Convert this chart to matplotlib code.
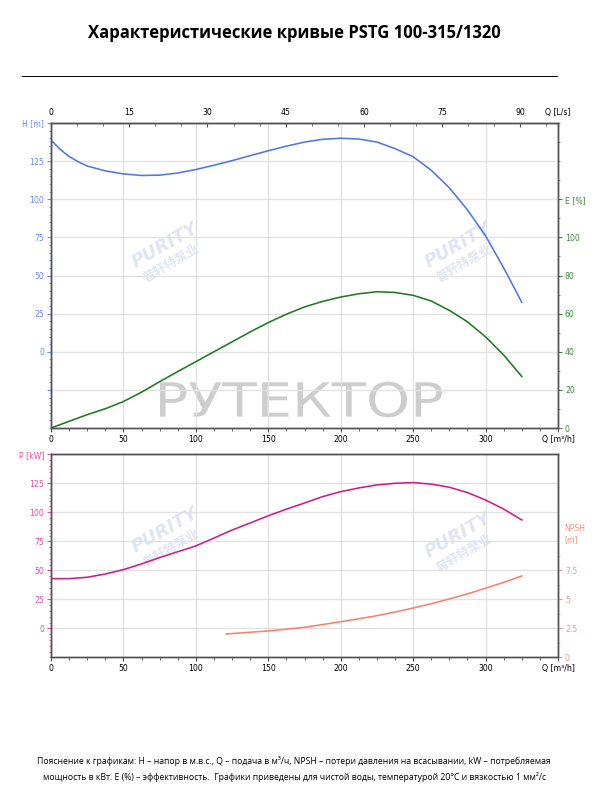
import matplotlib
matplotlib.use('Agg')
import matplotlib.pyplot as plt
from matplotlib.ticker import MultipleLocator
from matplotlib.lines import Line2D
from matplotlib.textpath import TextPath
from matplotlib.patches import PathPatch
from matplotlib.font_manager import FontProperties
from matplotlib.transforms import Affine2D

plt.rcParams['font.family'] = ['Liberation Sans Narrow', 'DejaVu Sans']

# --- data (Q in m3/h) ---
q_h = [0, 6, 12.5, 19, 25, 37.5, 50, 62.5, 75, 87.5, 100, 112.5, 125, 137.5, 150, 162.5, 175,
       187.5, 200, 212.5, 225, 237.5, 250, 262.5, 275, 287.5, 300, 312.5, 325]
h_m = [138.8, 133, 128, 124.5, 121.8, 118.6, 116.6, 115.6, 115.8, 117.2, 119.5, 122.3, 125.3, 128.6,
       131.8, 134.8, 137.5, 139.3, 140, 139.5, 137.5, 133.2, 127.9, 119, 107.5, 93, 76, 55, 32.4]

q_e = [0, 12.5, 25, 37.5, 50, 62.5, 75, 87.5, 100, 112.5, 125, 137.5, 150, 162.5, 175, 187.5,
       200, 212.5, 225, 237.5, 250, 262.5, 275, 287.5, 300, 312.5, 325]
eff = [0, 3.5, 7.0, 10.1, 13.9, 18.8, 24.3, 29.6, 34.8, 40, 45.2, 50.4, 55.3, 59.7, 63.5, 66.4,
       68.7, 70.4, 71.5, 71.1, 69.6, 66.6, 61.7, 55.7, 47.8, 38.3, 27]

q_p = [0, 12.5, 25, 37.5, 50, 62.5, 75, 87.5, 100, 112.5, 125, 137.5, 150, 162.5, 175, 187.5,
       200, 212.5, 225, 237.5, 250, 262.5, 275, 287.5, 300, 312.5, 325]
p_kw = [42.8, 42.8, 44, 46.8, 50.6, 55.5, 61, 66, 71, 77.8, 84.7, 90.8, 97, 102.7, 108, 113.5,
        117.8, 121, 123.6, 125, 125.6, 124.3, 121.6, 117, 110.6, 102.8, 93.4]

q_n = [121, 137.5, 150, 162.5, 175, 187.5, 200, 212.5, 225, 237.5, 250, 262.5, 275, 287.5, 300, 312.5, 325]
npsh = [2.01, 2.16, 2.27, 2.42, 2.59, 2.82, 3.07, 3.32, 3.59, 3.9, 4.25, 4.62, 5.03, 5.47, 5.95, 6.46, 7.01]

q_ticks = [0, 50, 100, 150, 200, 250, 300, 350]
q_labels = ['0', '50', '100', '150', '200', '250', '300', 'Q [m³/h]']
ls_ticks = [0, 15, 30, 45, 60, 75, 90, 350 / 3.6]
ls_labels = ['0', '15', '30', '45', '60', '75', '90', 'Q [L/s]']

c_h, c_e, c_p, c_n = '#4f78e3', '#1f7a1f', '#c81e8c', '#f8806c'
c_hl, c_el, c_pl, c_nl = '#6a8cea', '#3d8a3d', '#df4fa6', '#f59684'
grid_c = '#e2e2e2'
spine_c = '#505050'
fs = 5.6
lw = 1.15

fig = plt.figure(figsize=(6.03, 8), dpi=100)

txt_font = ['Open Sans', 'Noto Sans', 'DejaVu Sans']
fig.text(0.488, 1 - 33 / 800, 'Характеристические кривые PSTG 100-315/1320',
         ha='center', va='center', fontsize=12, fontweight='bold', family=txt_font)
fig.add_artist(Line2D([22 / 603, 557 / 603], [1 - 76 / 800] * 2, color='black', lw=0.7))
fig.text(0.488, 1 - 761 / 800,
         'Пояснение к графикам: H – напор в м.в.с., Q – подача в м³/ч, NPSH – потери давления на всасывании, kW – потребляемая',
         ha='center', va='center', fontsize=6.2, family=txt_font)
fig.text(0.488, 1 - 777 / 800,
         'мощность в кВт. E (%) – эффективность.  Графики приведены для чистой воды, температурой 20°C и вязкостью 1 мм²/с',
         ha='center', va='center', fontsize=6.2, family=txt_font)

# watermarks
tp = TextPath((0, 0), 'РУТЕКТОР', size=40, prop=FontProperties(family='DejaVu Sans'))
bb = tp.get_extents()
x0, x1, ytop, ybot = 160, 442, 381.7, 417.3
sx = (x1 - x0) / bb.width
sy = (ybot - ytop) / bb.height
wm = PathPatch(tp, facecolor='#cdcdcd', edgecolor='none', zorder=-1,
               transform=Affine2D().translate(-bb.x0, -bb.y0).scale(sx, sy).translate(x0, 800 - ybot))
fig.add_artist(wm)
for (wx, wy) in [(165, 245), (458, 245), (165, 530), (458, 535)]:
    fig.text(wx / 603, 1 - wy / 800, 'PURITY', ha='center', va='center', fontsize=13,
             fontweight='bold', style='italic', rotation=30, color='#dfe5f1',
             family=['DejaVu Sans'], zorder=-1)
    fig.text((wx + 6) / 603, 1 - (wy + 18) / 800, '普轩特泵业', ha='center', va='center', fontsize=9,
             fontweight='bold', rotation=30, color='#dfe5f1',
             family=['Noto Sans CJK SC', 'DejaVu Sans'], zorder=-1)


def style_axes(ax):
    ax.patch.set_alpha(0)
    for s in ax.spines.values():
        s.set_color(spine_c)
        s.set_linewidth(1.0)


# ---------------- top chart: H and E ----------------
ax1 = fig.add_axes([51 / 603, 1 - 428 / 800, 507 / 603, 305 / 800])
ax1e = ax1.twinx()
style_axes(ax1)
style_axes(ax1e)

ax1.set_xlim(0, 350)
ax1.set_ylim(-50, 150)
ax1e.set_ylim(0, 160)

ax1.set_xticks(q_ticks)
ax1.set_xticklabels(q_labels)
ax1.xaxis.set_minor_locator(MultipleLocator(12.5))
ax1.set_yticks([-25, 0, 25, 50, 75, 100, 125, 150])
ax1.set_yticklabels(['', '0', '25', '50', '75', '100', '125', 'H [m]'])
ax1.yaxis.set_minor_locator(MultipleLocator(5))
ax1.grid(True, color=grid_c, lw=1.0)
ax1.set_axisbelow(True)

ax1e.set_yticks([0, 20, 40, 60, 80, 100, 120])
ax1e.set_yticklabels(['0', '20', '40', '60', '80', '100', 'E [%]'])
ax1e.yaxis.set_minor_locator(MultipleLocator(10))

top = ax1.secondary_xaxis('top', functions=(lambda q: q / 3.6, lambda l: l * 3.6))
top.set_xticks(ls_ticks)
top.set_xticklabels(ls_labels)
top.xaxis.set_minor_locator(MultipleLocator(5))
top.spines['top'].set_color(spine_c)
top.tick_params(axis='x', which='major', direction='in', length=3, width=0.8,
                color=spine_c, labelsize=fs, pad=4)
top.tick_params(axis='x', which='minor', direction='in', length=2, width=0.6, color=spine_c)

ax1.tick_params(axis='x', which='major', length=3, width=0.8, color=spine_c, labelsize=fs, pad=2)
ax1.tick_params(axis='x', which='minor', length=2, width=0.6, color=spine_c)
ax1.tick_params(axis='y', which='major', length=3, width=0.8, color=c_hl,
                labelcolor=c_hl, labelsize=fs, pad=2)
ax1.tick_params(axis='y', which='minor', length=1.5, width=0.6, color=c_hl)
ax1e.tick_params(axis='y', which='major', length=3, width=0.8, color=c_el,
                 labelcolor=c_el, labelsize=fs, pad=2)
ax1e.tick_params(axis='y', which='minor', length=1.5, width=0.6, color=c_el)

ax1.plot(q_h, h_m, color=c_h, lw=lw, solid_joinstyle='round')
ax1e.plot(q_e, eff, color=c_e, lw=lw, solid_joinstyle='round')

# ---------------- bottom chart: P and NPSH ----------------
ax2 = fig.add_axes([51 / 603, 1 - 657.3 / 800, 507 / 603, 203 / 800])
ax2n = ax2.twinx()
style_axes(ax2)
style_axes(ax2n)

ax2.set_xlim(0, 350)
ax2.set_ylim(-25, 150)
ax2n.set_ylim(0, 17.5)

ax2.set_xticks(q_ticks)
ax2.set_xticklabels(q_labels)
ax2.xaxis.set_minor_locator(MultipleLocator(12.5))
ax2.set_yticks([0, 25, 50, 75, 100, 125, 150])
ax2.set_yticklabels(['0', '25', '50', '75', '100', '125', 'P [kW]'])
ax2.yaxis.set_minor_locator(MultipleLocator(5))
ax2.grid(True, color=grid_c, lw=1.0)
ax2.set_axisbelow(True)

ax2n.set_yticks([0, 2.5, 5, 7.5])
ax2n.set_yticklabels(['0', '2.5', '5', '7.5'])
ax2n.set_yticks([1.25, 3.75, 6.25, 8.75], minor=True)
ax2n.text(1.012, 10.6, 'NPSH\n[m]', transform=ax2n.get_yaxis_transform(),
          ha='left', va='center', fontsize=fs, color=c_nl, linespacing=1.3)

ax2.tick_params(axis='x', which='major', length=3, width=0.8, color=spine_c, labelsize=fs, pad=2)
ax2.tick_params(axis='x', which='minor', length=2, width=0.6, color=spine_c)
ax2.tick_params(axis='y', which='major', length=3, width=0.8, color=c_pl,
                labelcolor=c_pl, labelsize=fs, pad=2)
ax2.tick_params(axis='y', which='minor', length=1.5, width=0.6, color=c_pl)
ax2n.tick_params(axis='y', which='major', length=3, width=0.8, color=c_nl,
                 labelcolor=c_nl, labelsize=fs, pad=2)
ax2n.tick_params(axis='y', which='minor', length=1.5, width=0.6, color=c_nl)

ax2.plot(q_p, p_kw, color=c_p, lw=lw, solid_joinstyle='round')
ax2n.plot(q_n, npsh, color=c_n, lw=lw, solid_joinstyle='round')

fig.savefig('out.png', dpi=100)
